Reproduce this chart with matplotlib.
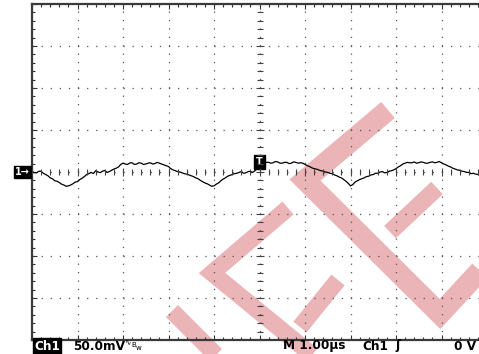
import matplotlib
matplotlib.use('Agg')
import matplotlib.pyplot as plt
from matplotlib.lines import Line2D
from matplotlib.ticker import MultipleLocator

plt.rcParams['lines.scale_dashes'] = False

# Ch1 trace: time in us, level in mV
time_us = [0.00, 0.05, 0.10, 0.15, 0.20, 0.25, 0.30, 0.35, 0.40, 0.45,
           0.50, 0.55, 0.60, 0.65, 0.70, 0.75, 0.80, 0.85, 0.90, 0.95,
           1.00, 1.05, 1.10, 1.15, 1.20, 1.25, 1.30, 1.35, 1.40, 1.45,
           1.50, 1.55, 1.60, 1.65, 1.70, 1.75, 1.80, 1.85, 1.90, 1.95,
           2.00, 2.05, 2.10, 2.15, 2.20, 2.25, 2.30, 2.35, 2.40, 2.45,
           2.50, 2.55, 2.60, 2.65, 2.70, 2.75, 2.80, 2.85, 2.90, 2.95,
           3.00, 3.05, 3.10, 3.15, 3.20, 3.25, 3.30, 3.35, 3.40, 3.45,
           3.50, 3.55, 3.60, 3.65, 3.70, 3.75, 3.80, 3.85, 3.90, 3.95,
           4.00, 4.05, 4.10, 4.15, 4.20, 4.25, 4.30, 4.35, 4.40, 4.45,
           4.50, 4.55, 4.60, 4.65, 4.70, 4.75, 4.80, 4.85, 4.90, 4.95,
           5.00, 5.05, 5.10, 5.15, 5.20, 5.25, 5.30, 5.35, 5.40, 5.45,
           5.50, 5.55, 5.60, 5.65, 5.70, 5.75, 5.80, 5.85, 5.90, 5.95,
           6.00, 6.05, 6.10, 6.15, 6.20, 6.25, 6.30, 6.35, 6.40, 6.45,
           6.50, 6.55, 6.60, 6.65, 6.70, 6.75, 6.80, 6.85, 6.90, 6.95,
           7.00, 7.05, 7.10, 7.15, 7.20, 7.25, 7.30, 7.35, 7.40, 7.45,
           7.50, 7.55, 7.60, 7.65, 7.70, 7.75, 7.80, 7.85, 7.90, 7.95,
           8.00, 8.05, 8.10, 8.15, 8.20, 8.25, 8.30, 8.35, 8.40, 8.45,
           8.50, 8.55, 8.60, 8.65, 8.70, 8.75, 8.80, 8.85, 8.90, 8.95,
           9.00, 9.05, 9.10, 9.15, 9.20, 9.25, 9.30, 9.35, 9.40, 9.45,
           9.50, 9.55, 9.60, 9.65, 9.70, 9.75, 9.80, 9.82]
ch1_mv = [0.5, -0.8, -1.0, 0.9, 0.8, -1.5, -3.0, -4.5, -7.0, -8.0,
          -10.5, -11.0, -12.5, -14.5, -15.5, -17.0, -16.5, -15.5, -14.0, -12.0,
          -11.5, -9.0, -7.5, -5.5, -3.0, -2.0, -0.5, -1.8, 1.5, 0.0,
          -0.8, 1.0, 1.8, -0.5, 0.5, 2.0, 3.5, 4.5, 6.0, 9.0,
          10.5, 9.5, 9.0, 10.8, 11.0, 9.0, 9.5, 11.0, 10.5, 9.0,
          9.5, 10.5, 11.0, 9.5, 10.0, 11.5, 10.5, 9.5, 8.5, 7.5,
          6.5, 4.0, 2.5, 1.5, 0.5, 0.0, -1.0, -2.0, -2.5, -3.5,
          -4.5, -5.5, -7.0, -8.0, -10.0, -11.5, -13.0, -14.0, -15.5, -17.0,
          -16.5, -14.5, -13.0, -10.5, -8.5, -7.0, -5.0, -4.0, -3.0, -2.0,
          -1.5, -0.5, 0.5, -1.5, -1.0, 0.5, 0.8, -0.5, 1.5, 4.0,
          7.5, 10.0, 10.5, 11.5, 11.5, 10.5, 11.0, 12.5, 12.0, 10.5,
          10.5, 11.5, 11.5, 10.0, 10.5, 12.0, 11.5, 10.5, 11.0, 10.5,
          9.0, 7.5, 6.5, 5.0, 4.0, 3.5, 2.5, 1.5, 1.0, 0.0,
          -0.5, -1.5, -2.0, -3.5, -4.5, -6.0, -7.0, -9.0, -11.0, -13.5,
          -16.5, -15.0, -12.0, -10.5, -9.0, -8.0, -7.0, -5.5, -5.0, -3.5,
          -3.0, -1.5, -1.5, 0.0, 0.5, -1.0, -0.5, 1.0, 1.5, 2.5,
          4.0, 6.0, 7.5, 9.5, 10.5, 11.5, 11.0, 11.0, 12.0, 10.5,
          11.0, 12.0, 11.5, 10.5, 10.5, 11.5, 12.0, 11.0, 11.5, 12.5,
          11.0, 9.5, 8.5, 7.0, 6.0, 4.5, 3.5, 2.5, 2.0, 1.0,
          0.5, -0.5, -0.5, -2.0, -1.5, -2.5, -3.0, -3.5]

mv_per_div = 50.0
us_per_div = 1.0
trig_level_mv = 12.0
readout = ['Ch1', '50.0mV', 'M 1.00\u00b5s', 'Ch1', '0 V']

W, H = 479, 354
fig = plt.figure(figsize=(W / 100, H / 100), dpi=100)

# screen area in pixels, right edge cut off by the screenshot
sx0, sx1, sy0, sy1 = 32, 479, 4, 340
div_px = 45.5
pos = [sx0 / W, 1 - sy1 / H, (sx1 - sx0) / W, (sy1 - sy0) / H]

ax = fig.add_axes(pos)
ax.set_facecolor('none')
ax.set_xlim(0, (sx1 - sx0) / div_px * us_per_div)
ax.set_ylim(-4 * mv_per_div, 4 * mv_per_div)
ax.xaxis.set_major_locator(MultipleLocator(us_per_div))
ax.xaxis.set_minor_locator(MultipleLocator(0.2 * us_per_div))
ax.yaxis.set_major_locator(MultipleLocator(mv_per_div))
ax.yaxis.set_minor_locator(MultipleLocator(0.2 * mv_per_div))
ax.xaxis.grid(True, which='major', color='#555555', linewidth=0.9, linestyle=(0, (0.9, 5.15)))
ax.yaxis.grid(True, which='major', color='#555555', linewidth=0.9, linestyle=(0, (0.9, 5.65)))
ax.tick_params(which='both', direction='in', top=True, bottom=True, left=True, right=False,
               labelbottom=False, labelleft=False, color='#333333', width=0.8)
ax.tick_params(which='major', length=3.5)
ax.tick_params(which='minor', length=2.2)
for side in ['left', 'top', 'bottom']:
    ax.spines[side].set_color('#3a3a3a')
    ax.spines[side].set_linewidth(1.6)
ax.spines['right'].set_visible(False)

# centre crosshair with its small ticks
ax2 = fig.add_axes(pos, sharex=ax, sharey=ax)
ax2.set_facecolor('none')
ax2.spines['left'].set_position(('data', 5 * us_per_div))
ax2.spines['bottom'].set_position(('data', 0))
for side in ['left', 'bottom', 'top', 'right']:
    ax2.spines[side].set_visible(False)
ax2.tick_params(which='both', direction='inout', top=False, right=False,
                labelbottom=False, labelleft=False, color='#444444', width=0.8)
ax2.tick_params(which='major', length=6)
ax2.tick_params(which='minor', length=4.5)

ax.plot(time_us, ch1_mv, color='black', linewidth=0.9, zorder=3)

# trigger position and ground markers
ax.text(5 * us_per_div, trig_level_mv, 'T', color='white', fontsize=7, fontweight='bold',
        ha='center', va='center', zorder=5,
        bbox=dict(boxstyle='square,pad=0.2', fc='black', ec='black'))
ax.annotate('1\u2192', xy=(0, 0), xytext=(-1.5, 0), textcoords='offset points',
            ha='right', va='center', color='white', fontsize=7, fontweight='bold',
            annotation_clip=False,
            bbox=dict(boxstyle='square,pad=0.12', fc='black', ec='black'))

# watermark behind everything
def px(x, y):
    return x / W, 1 - y / H

marks = [
    ([(388, 110), (305, 180), (440, 314), (488, 262)], 21),
    ([(437, 188), (390, 232)], 17),
    ([(288, 208), (212, 273), (328, 368)], 17),
    ([(338, 280), (300, 327)], 17),
    ([(172, 311), (227, 366)], 17),
]
for pts, wpx in marks:
    xs = [px(*p)[0] for p in pts]
    ys = [px(*p)[1] for p in pts]
    fig.lines.append(Line2D(xs, ys, transform=fig.transFigure, color='#ebb4b7',
                            linewidth=wpx * 0.72, solid_capstyle='butt',
                            solid_joinstyle='miter', zorder=-5))

# readout line under the screen
ty = 1 - 346 / H
fs = 8.7
fig.text(34 / W, ty, readout[0], color='white', fontsize=fs, fontweight='bold', va='center',
         bbox=dict(boxstyle='square,pad=0.1', fc='black', ec='black'))
fig.text(73 / W, ty, readout[1], fontsize=fs, fontweight='bold', va='center')
fig.text(124 / W, ty + 0.008, '\u223f', fontsize=5.5, va='center')
fig.text(131 / W, ty + 0.004, 'B', fontsize=5, va='center')
fig.text(136 / W, ty - 0.006, 'w', fontsize=5, va='center')
fig.text(283 / W, ty, readout[2], fontsize=fs, fontweight='bold', va='center')
fig.text(362 / W, ty, readout[3], fontsize=fs, fontweight='bold', va='center')
fig.text(395 / W, ty, '\u0283', fontsize=fs, fontweight='bold', va='center')
fig.text(454 / W, ty, readout[4], fontsize=fs, fontweight='bold', va='center')

fig.savefig('out.png', dpi=100)
